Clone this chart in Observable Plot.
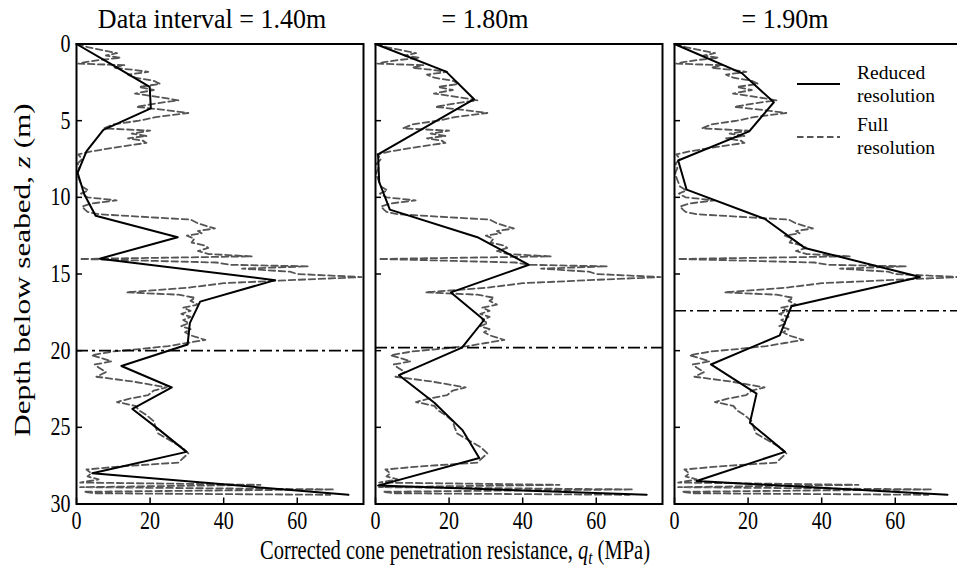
<!DOCTYPE html>
<html>
<head>
<meta charset="utf-8">
<script src="https://cdn.jsdelivr.net/npm/d3@7"></script>
<script src="https://cdn.jsdelivr.net/npm/@observablehq/plot@0.6"></script>
<style>
  html, body { margin: 0; padding: 0; background: #fff; overflow: hidden; }
  #chart svg { overflow: visible; }
  #chart svg text { font-family: 'Liberation Serif', 'DejaVu Serif', serif; }
</style>
</head>
<body>
<div id="chart"></div>
<script>
// ---- Data ----
const panels = ["1.40", "1.80", "1.90"];
const panelTitles = ["Data interval = 1.40m", "= 1.80m", "= 1.90m"];
const xTicks = [0, 20, 40, 60];
const yTicks = [0, 5, 10, 15, 20, 25, 30];

// Full-resolution profile (same CPT in every panel)
const fullDepth = [0.00,0.20,0.40,0.60,0.75,0.90,1.05,1.20,1.28,1.38,1.55,1.70,1.82,2.00,2.20,2.40,2.60,2.80,3.00,3.23,3.45,3.67,3.90,4.10,4.30,4.50,4.75,5.00,5.25,5.50,5.65,5.85,6.00,6.15,6.30,6.45,6.70,7.00,7.20,7.50,7.80,8.10,8.40,8.70,9.00,9.30,9.55,9.75,10.00,10.20,10.40,10.60,10.80,10.95,11.10,11.30,11.45,11.70,11.90,12.03,12.20,12.35,12.50,12.70,12.95,13.15,13.30,13.50,13.70,13.85,14.02,14.15,14.25,14.40,14.50,14.65,14.85,15.00,15.20,15.40,15.60,15.90,16.20,16.35,16.55,16.75,17.00,17.20,17.40,17.60,17.80,18.00,18.20,18.40,18.60,18.80,19.00,19.30,19.50,19.70,19.90,20.05,20.30,20.50,20.70,20.90,21.10,21.40,21.70,22.00,22.40,22.60,22.90,23.10,23.35,23.60,23.90,24.20,24.60,25.00,25.40,25.80,26.30,26.70,27.00,27.30,27.55,27.75,28.00,28.20,28.40,28.60,28.75,28.90,29.05,29.20,29.30,29.40];
const fullQt = [0,3,7,11,8,12,6,2,0.5,13,10,16,19.5,14,16,21,22.7,17,21,15.9,22,27.7,21,16.3,24,30.4,22,17,10,7.5,20,15,19,14,18,19,12,4,0.5,1.5,0.3,0.8,0.2,0.5,1.0,1.5,3.2,1.2,3,10.9,4,1.5,2.3,3,6,20,31,33,35.8,37.6,33,34,30,32,31.3,35,35.8,33,36,47.6,0.9,22,38,42,63,45,58,60,77.5,58,40,30,13.6,27.7,32.2,31,33,29,31,28.5,31,29,30.5,28.5,31,29.5,31,35,30,25,17,10,4.1,7,9.5,5,6,8,5.4,15,24.5,21,19.5,15,11,16,17,19,21,21.5,22.2,25,28.6,30.4,29,27.7,12,2.7,4,3,6,1,50,1,70,2,5,69];

// Reduced-resolution profiles
const red140Depth = [0,1.4,2.8,4.2,5.6,7.0,8.4,9.8,11.2,12.6,14.0,15.4,16.8,18.2,19.6,21.0,22.4,23.8,25.2,26.6,28.0,29.4];
const red140Qt = [0,10,19.9,20.2,7.3,2.7,0.3,2.1,5.2,27.5,6.3,54.0,33.6,30.8,30.2,12.2,25.9,15.2,22.7,29.9,4.3,73.9];
const red180Depth = [0,1.8,3.6,5.4,7.2,9.0,10.8,12.6,14.4,16.2,18.0,19.8,21.6,23.4,25.2,27.0,28.8,29.4];
const red180Qt = [0,19.2,26.8,13.7,0.7,1.0,3.9,27.7,41.7,20.5,29.5,23.5,6.4,16.0,23.7,28.2,0.7,73.7];
const red190Depth = [0,1.9,3.8,5.7,7.6,9.5,11.4,13.3,15.2,17.1,19.0,20.9,22.8,24.7,26.6,28.5,29.4];
const red190Qt = [0,18.3,27.0,20.3,1.0,3.3,24.5,35.4,66.7,31.8,28.6,9.9,22.3,20.5,30.0,6.0,74.2];

// Layer boundary depth shown as dash-dot line in each panel
const boundaryDepth = [20.0, 19.8, 17.4];

// ---- Tables ----
const fullRows = panels.flatMap(p => fullDepth.map((z, i) => ({panel: p, z, q: fullQt[i]})));
const redSets = [[red140Depth, red140Qt], [red180Depth, red180Qt], [red190Depth, red190Qt]];
const redRows = panels.flatMap((p, k) => redSets[k][0].map((z, i) => ({panel: p, z, q: redSets[k][1][i]})));
const boundRows = panels.map((p, k) => ({panel: p, z: boundaryDepth[k]}));

const W = 957, H = 569;
const font = "'Liberation Serif', 'DejaVu Serif', serif";
const STRETCH = 1.25; // glyphs in the reference are tall and narrow

const chart = Plot.plot({
  width: W, height: H,
  marginLeft: 75, marginRight: -4.5, marginTop: 43.5, marginBottom: 65.5,
  style: {fontFamily: font, fontSize: "20px", color: "black", background: "white"},
  fx: {domain: panels, paddingInner: 0.04, paddingOuter: 0, axis: null, label: null},
  x: {domain: [0, 78], label: null},
  y: {domain: [0, 30], reverse: true, label: null},
  marks: [
    Plot.line(fullRows, {fx: "panel", x: "q", y: "z", stroke: "#555", strokeWidth: 1.8, strokeDasharray: "6.5,3.5"}),
    Plot.line(redRows, {fx: "panel", x: "q", y: "z", stroke: "black", strokeWidth: 2}),
    Plot.ruleY(boundRows, {fx: "panel", y: "z", stroke: "black", strokeWidth: 1.6, strokeDasharray: "12,4,3,4"}),
    Plot.axisX({ticks: xTicks, tickSize: -6, tickPadding: 13, tickFormat: d => String(d), fontSize: 20, label: null, strokeWidth: 1.5}),
    Plot.axisY({ticks: yTicks, tickSize: -6, tickPadding: 0, tickFormat: () => "", label: null, facetAnchor: null, strokeWidth: 1.5}),
    Plot.axisY({ticks: yTicks, tickSize: 0, tickPadding: 6, tickFormat: d => String(d), fontSize: 20, label: null}),
    Plot.frame({stroke: "black", strokeWidth: 2})
  ]
});
document.getElementById("chart").appendChild(chart);

// stretch axis tick labels vertically about their anchor
d3.select(chart).selectAll('g[aria-label="x-axis tick label"] text, g[aria-label="y-axis tick label"] text')
  .each(function() {
    const t = this.getAttribute("transform") || "";
    this.setAttribute("transform", t + ` scale(1,${STRETCH})`);
  });

// ---- Titles, axis labels, legend (real SVG text) ----
const svg = d3.select(chart);
const g = svg.append("g").attr("font-family", font).attr("fill", "black").attr("text-anchor", "start");
function label(parent, x, y, size, anchor, s = STRETCH) {
  return parent.append("text").attr("transform", `translate(${x},${y}) scale(1,${s})`)
    .attr("font-size", size).attr("text-anchor", anchor);
}
const titleX = [212, 485, 785];
panelTitles.forEach((t, i) => label(g, titleX[i], 28, 26, "middle", 1.08).text(t));

// x axis label
const xl = label(g, 455, 559, 20.5, "middle", 1.3);
xl.append("tspan").text("Corrected cone penetration resistance, ");
xl.append("tspan").attr("font-style", "italic").text("q");
xl.append("tspan").attr("font-style", "italic").attr("font-size", 15).attr("dy", 4).text("t");
xl.append("tspan").attr("dy", -4).text(" (MPa)");

// y axis label (rotated, stretched along its length)
const yl = g.append("text").attr("transform", "translate(30,270) rotate(-90) scale(1.3,1)")
  .attr("text-anchor", "middle").attr("font-size", 24);
yl.append("tspan").text("Depth below seabed, ");
yl.append("tspan").attr("font-style", "italic").text("z");
yl.append("tspan").text(" (m)");

// legend
const lg = g.append("g");
lg.append("line").attr("x1", 797).attr("x2", 840).attr("y1", 84).attr("y2", 84).attr("stroke", "black").attr("stroke-width", 2);
label(lg, 857, 79, 19.5, "start", 1).text("Reduced");
label(lg, 857, 102, 19.5, "start", 1).text("resolution");
lg.append("line").attr("x1", 797).attr("x2", 840).attr("y1", 137).attr("y2", 137).attr("stroke", "#555").attr("stroke-width", 1.8).attr("stroke-dasharray", "6.5,3.5");
label(lg, 857, 131, 19.5, "start", 1).text("Full");
label(lg, 857, 154, 19.5, "start", 1).text("resolution");
</script>
</body>
</html>
